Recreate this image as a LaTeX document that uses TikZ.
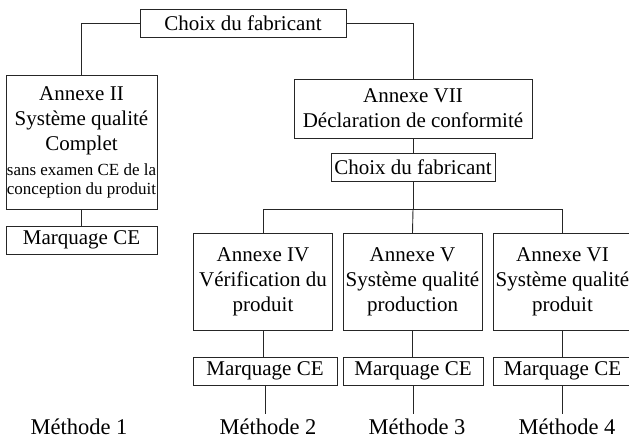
\documentclass[tikz,border=0pt]{standalone}
\usepackage{fontspec}
\setmainfont{Liberation Serif}
\begin{document}
\begin{tikzpicture}[x=1pt,y=-1pt,
  bx/.style={draw=black!85, line width=0.9pt, inner sep=0pt, align=center, font=\fontsize{21}{25}\selectfont},
  ln/.style={draw=black!85, line width=0.9pt},
  meth/.style={inner sep=0pt, font=\fontsize{22.5}{27}\selectfont, anchor=base}]
\useasboundingbox (0,0) rectangle (629,439);
\clip (0,0) rectangle (629,439);
% boxes
\node[bx, minimum width=206pt, minimum height=28pt] (top) at (243,23) {Choix du fabricant};
\node[bx, minimum width=151pt, minimum height=134pt] (a2) at (81.5,142)
  {Annexe II\\Système qualité\\Complet\\{\fontsize{17}{19}\selectfont sans examen CE de la}\\[-6pt]{\fontsize{17}{19}\selectfont conception du produit}};
\node[bx, minimum width=151pt, minimum height=28pt] (m1) at (81.5,240) {Marquage CE};
\node[bx, minimum width=238pt, minimum height=59pt] (a7) at (413,108.5) {Annexe VII\\Déclaration de conformité};
\node[bx, minimum width=164pt, minimum height=28pt] (c2) at (413,167) {Choix du fabricant};
\node[bx, minimum width=139pt, minimum height=97pt] (a4) at (263,282) {Annexe IV\\Vérification du\\produit};
\node[bx, minimum width=139pt, minimum height=97pt] (a5) at (412.5,282) {Annexe V\\Système qualité\\production};
\node[bx, minimum width=139pt, minimum height=97pt] (a6) at (562.5,282) {Annexe VI\\Système qualité\\produit};
\node[bx, minimum width=144pt, minimum height=28pt] (m2) at (265,371) {Marquage CE};
\node[bx, minimum width=140pt, minimum height=28pt] (m3) at (413,371) {Marquage CE};
\node[bx, minimum width=139pt, minimum height=28pt] (m4) at (562.5,371) {Marquage CE};
% labels
\node[meth] (t1) at (79,434) {Méthode 1};
\node[meth] (t2) at (268,434) {Méthode 2};
\node[meth] (t3) at (417,434) {Méthode 3};
\node[meth] (t4) at (567,434) {Méthode 4};
% connectors
\draw[ln] (top.west) -| (a2.north);
\draw[ln] (top.east) -| (a7.north);
\draw[ln] (a2.south) -- (m1.north);
\draw[ln] (a7.south) -- (c2.north);
\coordinate (j) at (413,209);
\draw[ln] (c2.south) -- (j);
\draw[ln] (j) -- (a5.north);
\draw[ln] (j) -| (a4.north);
\draw[ln] (j) -| (a6.north);
\draw[ln] (a4.south) -- (a4.south |- m2.north);
\draw[ln] (a5.south) -- (a5.south |- m3.north);
\draw[ln] (a6.south) -- (a6.south |- m4.north);
\coordinate (e2) at (265,414);
\coordinate (e3) at (413,414);
\coordinate (e4) at (562.5,414);
\draw[ln] (m2.south) -- (e2);
\draw[ln] (m3.south) -- (e3);
\draw[ln] (m4.south) -- (e4);
\end{tikzpicture}
\end{document}
